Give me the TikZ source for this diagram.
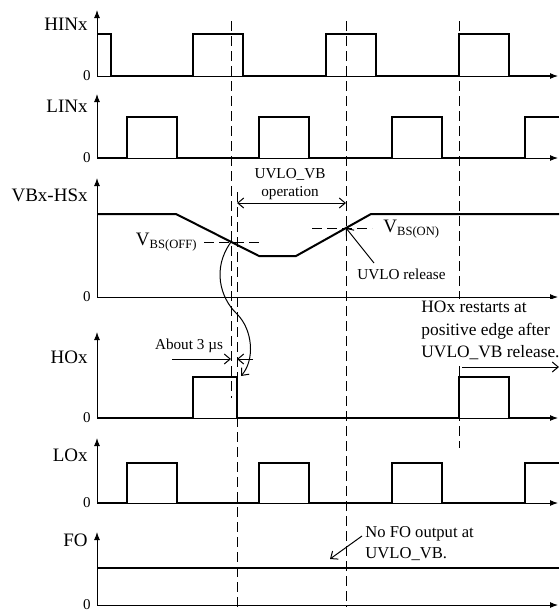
\documentclass[tikz,border=0pt]{standalone}
\usepackage{fontspec}
\setmainfont{Liberation Serif}
\usetikzlibrary{arrows.meta}

\begin{document}
\begin{tikzpicture}[x=0.5pt, y=-0.5pt,
	ax/.style={line width=0.5pt, {Latex[length=4pt,width=3pt]}-{Latex[length=4pt,width=3pt]}},
	wave/.style={line width=1pt, line join=miter},
	guide/.style={line width=0.5pt, dash pattern=on 5pt off 2.5pt},
	note/.style={line width=0.5pt, -{Straight Barb[length=3pt,width=5pt]}},
	both/.style={line width=0.5pt, {Straight Barb[length=3pt,width=5pt]}-{Straight Barb[length=3pt,width=5pt]}},
	sig/.style={font=\fontsize{9.5}{11}\selectfont, anchor=east, inner sep=0pt},
	zero/.style={font=\fontsize{7.5}{9}\selectfont, anchor=east, inner sep=0pt},
	txt/.style={font=\fontsize{7.6}{9}\selectfont, inner sep=0.5pt, align=center}]
	\useasboundingbox (0,0) rectangle (559,611);
	
	% guide lines
	\draw[guide] (231,21) -- (231,398);
	\draw[guide] (237,192) -- (237,607);
	\draw[guide] (346,21) -- (346,607);
	\draw[guide] (459,21) -- (459,448);
	\draw[guide] (204,242) -- (263,242);
	\draw[guide] (312,228) -- (372,228);
	
	% HINx
	\draw[ax] (97,10) -- (97,76) -- (558,76);
	\draw[wave] (97,34) -- (111,34) -- (111,76) -- (193,76) -- (193,34) -- (243,34) -- (243,76) -- (326,76) -- (326,34) -- (376,34) -- (376,76) -- (459,76) -- (459,34) -- (509,34) -- (509,76) -- (550,76);
	\node[sig] (hin) at (88,24) {HINx};
	\node[zero] (hin0) at (91,76) {0};
	
	% LINx
	\draw[ax] (97,94) -- (97,158) -- (558,158);
	\draw[wave] (97,158) -- (127,158) -- (127,117) -- (177,117) -- (177,158) -- (259,158) -- (259,117) -- (309,117) -- (309,158) -- (392,158) -- (392,117) -- (442,117) -- (442,158) -- (525,158) -- (525,117) -- (559,117);
	\node[sig] (lin) at (88,106) {LINx};
	\node[zero] (lin0) at (91,158) {0};
	
	% VBx-HSx
	\draw[ax] (97,178) -- (97,297) -- (558,297);
	\draw[wave] (97,214) -- (176,214) -- (259,256) -- (296,256) -- (371,214) -- (559,214);
	\node[sig] (vbs) at (88,195) {VBx-HSx};
	\node[zero] (vbs0) at (91,297) {0};
	\coordinate (xoff) at (231,242);
	\coordinate (xon) at (346,228);
	\node[anchor=east, inner sep=0pt] (voff) at (197,242) {\fontsize{9.5}{11}\selectfont V\raisebox{-0.35ex}{\fontsize{6.3}{7}\selectfont BS(OFF)}};
	\node[anchor=west, inner sep=0pt] (von) at (383,229) {\fontsize{9.5}{11}\selectfont V\raisebox{-0.35ex}{\fontsize{6.3}{7}\selectfont BS(ON)}};
	\node[txt] (op) at (290,184) {UVLO\_VB\\operation};
	\coordinate (opl) at (237,203);
	\coordinate (opr) at (346,203);
	\draw[both] (opl) -- (opr);
	\node[txt, anchor=west] (rel) at (356,274) {UVLO release};
	\coordinate (relfoot) at (374,263);
	\draw[note] (relfoot) -- (xon);
	
	% HOx
	\draw[ax] (97,332) -- (97,418) -- (558,418);
	\draw[wave] (97,418) -- (193,418) -- (193,377) -- (237,377) -- (237,418) -- (459,418) -- (459,377) -- (509,377) -- (509,418) -- (550,418);
	\node[sig] (ho) at (88,357) {HOx};
	\node[zero] (ho0) at (91,418) {0};
	\node[txt] (abt) at (189,346) {About 3 µs};
	\coordinate (dl) at (172,359);
	\coordinate (dr) at (253,359);
	\draw[note] (dl) -- (231,359);
	\draw[note] (dr) -- (237,359);
	\draw[note] (xoff) .. controls (212,268) and (220,298) .. (237,314) .. controls (253,330) and (255,360) .. (241,376);
	\node[font=\fontsize{8.7}{11.2}\selectfont, align=left, anchor=north west, fill=white, inner sep=1pt] (rst) at (419,299) {HOx restarts at\\positive edge after\\UVLO\_VB release.};
	\coordinate (rsl) at (462,367);
	\coordinate (rsr) at (559,367);
	\draw[note] (rsl) -- (rsr);
	
	% LOx
	\draw[ax] (97,438) -- (97,503) -- (558,503);
	\draw[wave] (97,503) -- (127,503) -- (127,463) -- (177,463) -- (177,503) -- (259,503) -- (259,463) -- (309,463) -- (309,503) -- (392,503) -- (392,463) -- (442,463) -- (442,503) -- (525,503) -- (525,463) -- (559,463);
	\node[sig] (lo) at (88,455) {LOx};
	\node[zero] (lo0) at (91,503) {0};
	
	% FO
	\draw[ax] (97,532) -- (97,605) -- (558,605);
	\draw[wave] (97,568) -- (559,568);
	\node[sig] (fo) at (88,540) {FO};
	\node[zero] (fo0) at (91,605) {0};
	\node[font=\fontsize{8.3}{10.5}\selectfont, align=left, anchor=north west, inner sep=0pt] (nofo) at (365,526) {No FO output at\\UVLO\_VB.};
	\coordinate (nofoa) at (362,536);
	\coordinate (nofob) at (330,559);
	\draw[note] (nofoa) -- (nofob);
\end{tikzpicture}
\end{document}
